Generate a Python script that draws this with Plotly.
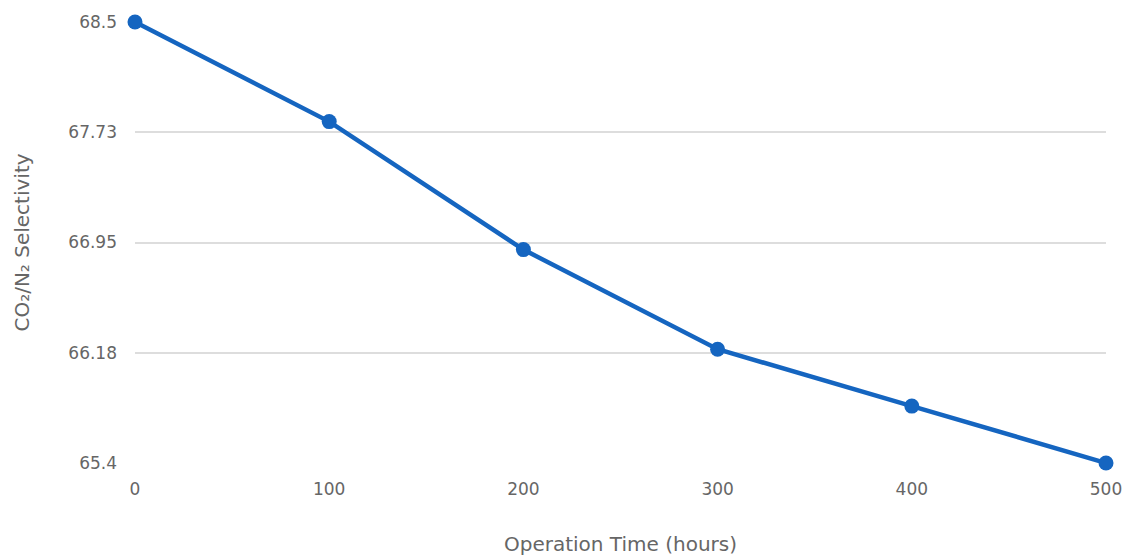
import plotly.graph_objects as go

hours = [0, 100, 200, 300, 400, 500]
selectivity = [68.5, 67.80, 66.90, 66.20, 65.80, 65.4]
y_ticks = [65.4, 66.175, 66.95, 67.725, 68.5]
y_tick_labels = ["65.4", "66.18", "66.95", "67.73", "68.5"]
x_ticks = [0, 100, 200, 300, 400, 500]

fig = go.Figure()
fig.add_trace(go.Scatter(
    x=hours, y=selectivity, mode="lines+markers",
    line=dict(color="#1565C0", width=4.5),
    marker=dict(color="#1565C0", size=15),
    cliponaxis=False, showlegend=False,
))
font = "DejaVu Sans"
grey = "#666666"
fig.update_layout(
    width=1125, height=556,
    margin=dict(l=135, r=19, t=22, b=93, autoexpand=False),
    paper_bgcolor="white", plot_bgcolor="white",
    font=dict(family=font, color=grey, size=17),
    xaxis=dict(range=[0, 500], tickvals=x_ticks, showgrid=False, zeroline=False,
               showline=False, ticks="", automargin=False, ticklabelstandoff=14,
               tickfont=dict(family=font, size=17, color=grey),
               title=dict(text="Operation Time (hours)", font=dict(family=font, size=20, color=grey), standoff=42)),
    yaxis=dict(range=[65.4, 68.5], tickvals=y_ticks, ticktext=y_tick_labels,
               showgrid=True, gridcolor="#dddddd", gridwidth=1.5, zeroline=False,
               showline=False, ticks="", automargin=False, ticklabelstandoff=17,
               tickfont=dict(family=font, size=17, color=grey),
               title=dict(text="CO₂/N₂ Selectivity", font=dict(family=font, size=20, color=grey), standoff=33)),
)
fig.write_html("out.html", config={"displayModeBar": False},
               post_script="document.body.style.margin='0';document.body.style.overflow='hidden';")
